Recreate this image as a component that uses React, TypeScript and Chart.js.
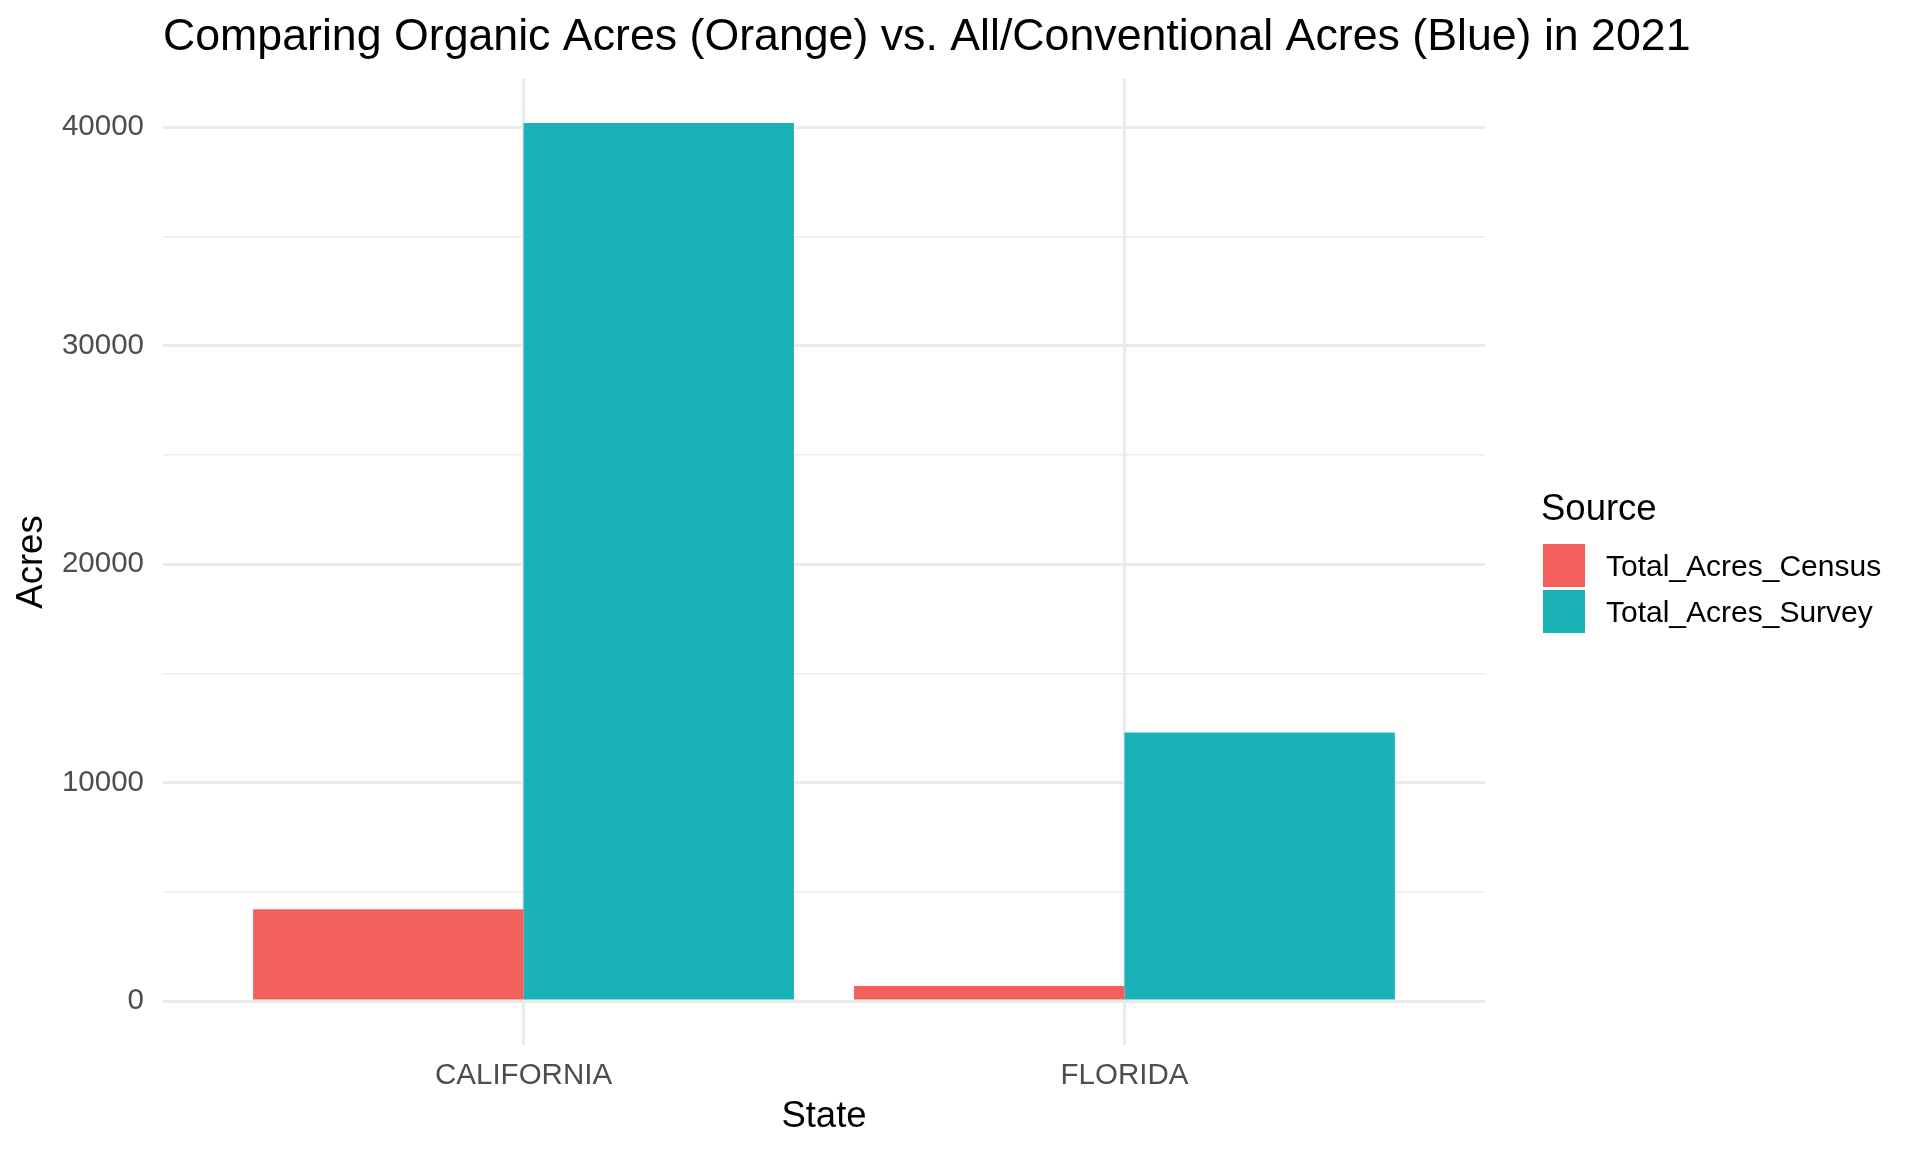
import React, { useEffect, useRef } from "react";
import { Chart, registerables } from "chart.js";

Chart.register(...registerables);

const categories = ["CALIFORNIA", "FLORIDA"];
const seriesNames = ["Total_Acres_Census", "Total_Acres_Survey"];
const censusValues = [4200, 690];
const surveyValues = [40200, 12300];
const seriesColors = ["#F35F5B", "#19B3B7"];
const yTickValues = [0, 5000, 10000, 15000, 20000, 25000, 30000, 35000, 40000];
const chartTitle = "Comparing Organic Acres (Orange) vs. All/Conventional Acres (Blue) in 2021";
const xTitle = "State";
const yTitle = "Acres";
const legendTitle = "Source";

const FONT = "'Liberation Sans', Arial, Helvetica, sans-serif";

export default function App() {
  const ref = useRef<HTMLCanvasElement | null>(null);

  useEffect(() => {
    if (!ref.current) return;
    const maxV = Math.max(...censusValues, ...surveyValues);
    const pad = maxV * 0.05;

    const overlay = {
      id: "overlay",
      afterDraw(chart: any) {
        const ctx = chart.ctx;
        ctx.save();
        ctx.fillStyle = "#000000";
        ctx.textAlign = "left";
        ctx.textBaseline = "alphabetic";
        ctx.font = `44.7px ${FONT}`;
        ctx.fillText(chartTitle, 163, 50);

        ctx.font = `36.5px ${FONT}`;
        ctx.fillText(legendTitle, 1541, 520);

        const keyX = 1543;
        const keyTop = [544, 590];
        const keySize = 43;
        ctx.font = `30px ${FONT}`;
        ctx.textBaseline = "middle";
        chart.data.datasets.forEach((ds: any, i: number) => {
          ctx.fillStyle = ds.backgroundColor;
          ctx.fillRect(keyX, keyTop[i], 42, keySize);
          ctx.fillStyle = "#000000";
          ctx.fillText(ds.label, 1606, keyTop[i] + keySize / 2 + 2);
        });
        ctx.restore();
      },
    };

    const chart = new Chart(ref.current, {
      type: "bar",
      data: {
        datasets: [
          {
            label: seriesNames[0],
            data: censusValues.map((v, i) => ({ x: i, y: v })),
            backgroundColor: seriesColors[0],
            borderWidth: 0,
          },
          {
            label: seriesNames[1],
            data: surveyValues.map((v, i) => ({ x: i, y: v })),
            backgroundColor: seriesColors[1],
            borderWidth: 0,
          },
        ],
      },
      options: {
        animation: false,
        responsive: false,
        devicePixelRatio: 1,
        categoryPercentage: 0.9,
        barPercentage: 1.0,
        layout: { padding: { left: 0, top: 79, right: 435, bottom: 0 } },
        plugins: {
          legend: { display: false },
          title: { display: false },
          tooltip: { enabled: false },
        },
        scales: {
          x: {
            type: "linear",
            min: -0.6,
            max: 1.6,
            offset: false,
            afterBuildTicks: (scale: any) => {
              scale.ticks = categories.map((_, i) => ({ value: i }));
            },
            afterFit: (scale: any) => {
              scale.height = 107;
            },
            ticks: {
              padding: 13.5,
              color: "#4D4D4D",
              font: { family: FONT, size: 29.5 },
              callback: (v: any) => categories[Math.round(Number(v))] ?? "",
              autoSkip: false,
              maxRotation: 0,
            },
            grid: {
              offset: false,
              color: "#EBEBEB",
              lineWidth: 3,
              drawTicks: false,
            },
            border: { display: false },
            title: {
              display: true,
              text: xTitle,
              color: "#000000",
              font: { family: FONT, size: 36.5, lineHeight: 1 },
              padding: { top: 0, bottom: 17 },
            },
          },
          y: {
            type: "linear",
            min: -pad,
            max: maxV + pad,
            afterBuildTicks: (scale: any) => {
              scale.ticks = yTickValues.map((v) => ({ value: v }));
            },
            afterFit: (scale: any) => {
              scale.width = 163;
            },
            ticks: {
              padding: 19,
              color: "#4D4D4D",
              font: { family: FONT, size: 29.5 },
              callback: (v: any) => (Number(v) % 10000 === 0 ? String(v) : ""),
              autoSkip: false,
            },
            grid: {
              color: "#EBEBEB",
              lineWidth: (c: any) => (c.tick && c.tick.value % 10000 === 0 ? 3 : 1.6),
              drawTicks: false,
            },
            border: { display: false },
            title: {
              display: true,
              text: yTitle,
              color: "#000000",
              font: { family: FONT, size: 36.5, lineHeight: 1 },
              padding: { top: 14, bottom: 0 },
            },
          },
        },
      },
      plugins: [overlay],
    } as any);

    return () => chart.destroy();
  }, []);

  return (
    <div style={{ position: "absolute", left: 0, top: 0, width: 1920, height: 1152, background: "#FFFFFF" }}>
      <canvas ref={ref} width={1920} height={1152} style={{ width: 1920, height: 1152, display: "block" }} />
    </div>
  );
}
